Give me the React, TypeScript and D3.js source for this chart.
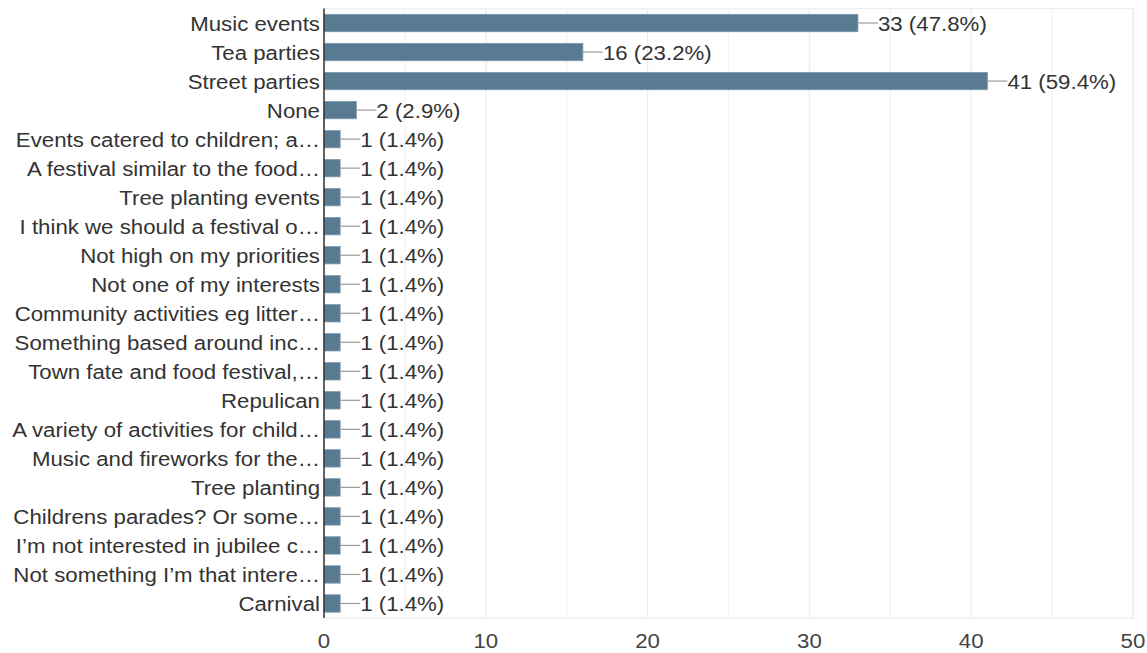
import React from "react";
import * as d3 from "d3";

const categories: string[] = [
  "Music events",
  "Tea parties",
  "Street parties",
  "None",
  "Events catered to children; a…",
  "A festival similar to the food…",
  "Tree planting events",
  "I think we should a festival o…",
  "Not high on my priorities",
  "Not one of my interests",
  "Community activities eg litter…",
  "Something based around inc…",
  "Town fate and food festival,…",
  "Repulican",
  "A variety of activities for child…",
  "Music and fireworks for the…",
  "Tree planting",
  "Childrens parades? Or some…",
  "I’m not interested in jubilee c…",
  "Not something I’m that intere…",
  "Carnival",
];

const counts: number[] = [33, 16, 41, 2, 1, 1, 1, 1, 1, 1, 1, 1, 1, 1, 1, 1, 1, 1, 1, 1, 1];
const percents: string[] = [
  "47.8%", "23.2%", "59.4%", "2.9%", "1.4%", "1.4%", "1.4%", "1.4%", "1.4%", "1.4%",
  "1.4%", "1.4%", "1.4%", "1.4%", "1.4%", "1.4%", "1.4%", "1.4%", "1.4%", "1.4%", "1.4%",
];
const xTicks: number[] = [0, 10, 20, 30, 40, 50];
const xMinorTicks: number[] = [5, 15, 25, 35, 45];

const W = 1147;
const H = 653;
const left = 324;
const right = 1133;
const top = 8.5;
const bottom = 618;
const font = "Arial, 'Liberation Sans', sans-serif";
const sx = 1.06;

export default function App() {
  const x = d3.scaleLinear().domain([0, 50]).range([left, right]);
  const y = d3
    .scaleBand<string>()
    .domain(categories)
    .range([top, bottom])
    .paddingInner(0.4)
    .paddingOuter(0.2);
  const bw = y.bandwidth();

  return (
    <svg
      width={W}
      height={H}
      style={{ position: "absolute", left: 0, top: 0, background: "#fff" }}
    >
      <rect x={left} y={top} width={right - left} height={bottom - top} fill="#fff" stroke="#ececec" strokeWidth={1.2} />
      {xMinorTicks.map((t) => (
        <line key={"m" + t} x1={x(t)} x2={x(t)} y1={top} y2={bottom} stroke="#f2f2f2" strokeWidth={1.2} />
      ))}
      {xTicks.map((t) => (
        <line key={"g" + t} x1={x(t)} x2={x(t)} y1={top} y2={bottom} stroke="#ebebeb" strokeWidth={1.2} />
      ))}
      {categories.map((c, i) => {
        const yy = y(c) as number;
        const cy = yy + bw / 2;
        const xe = x(counts[i]);
        return (
          <g key={c}>
            <rect x={left} y={yy} width={xe - left} height={bw} fill="#587b93" stroke="#7f9bae" strokeWidth={0.8} />
            <line x1={xe} x2={xe + 20} y1={cy} y2={cy} stroke="#9a9a9a" strokeWidth={1.2} />
            <text transform={`translate(${xe + 20},${cy}) scale(${sx},1)`} dy="0.36em" fontFamily={font} fontSize={21} fill="#333">
              {counts[i]} ({percents[i]})
            </text>
            <text transform={`translate(${left - 4},${cy}) scale(${sx},1)`} dy="0.36em" textAnchor="end" fontFamily={font} fontSize={21} fill="#333">
              {c}
            </text>
          </g>
        );
      })}
      <line x1={left} x2={left} y1={top} y2={bottom} stroke="#333" strokeWidth={1.5} />
      {xTicks.map((t) => (
        <text key={"t" + t} transform={`translate(${x(t)},648.3) scale(${sx},1)`} textAnchor="middle" fontFamily={font} fontSize={21} fill="#444">
          {t}
        </text>
      ))}
    </svg>
  );
}
